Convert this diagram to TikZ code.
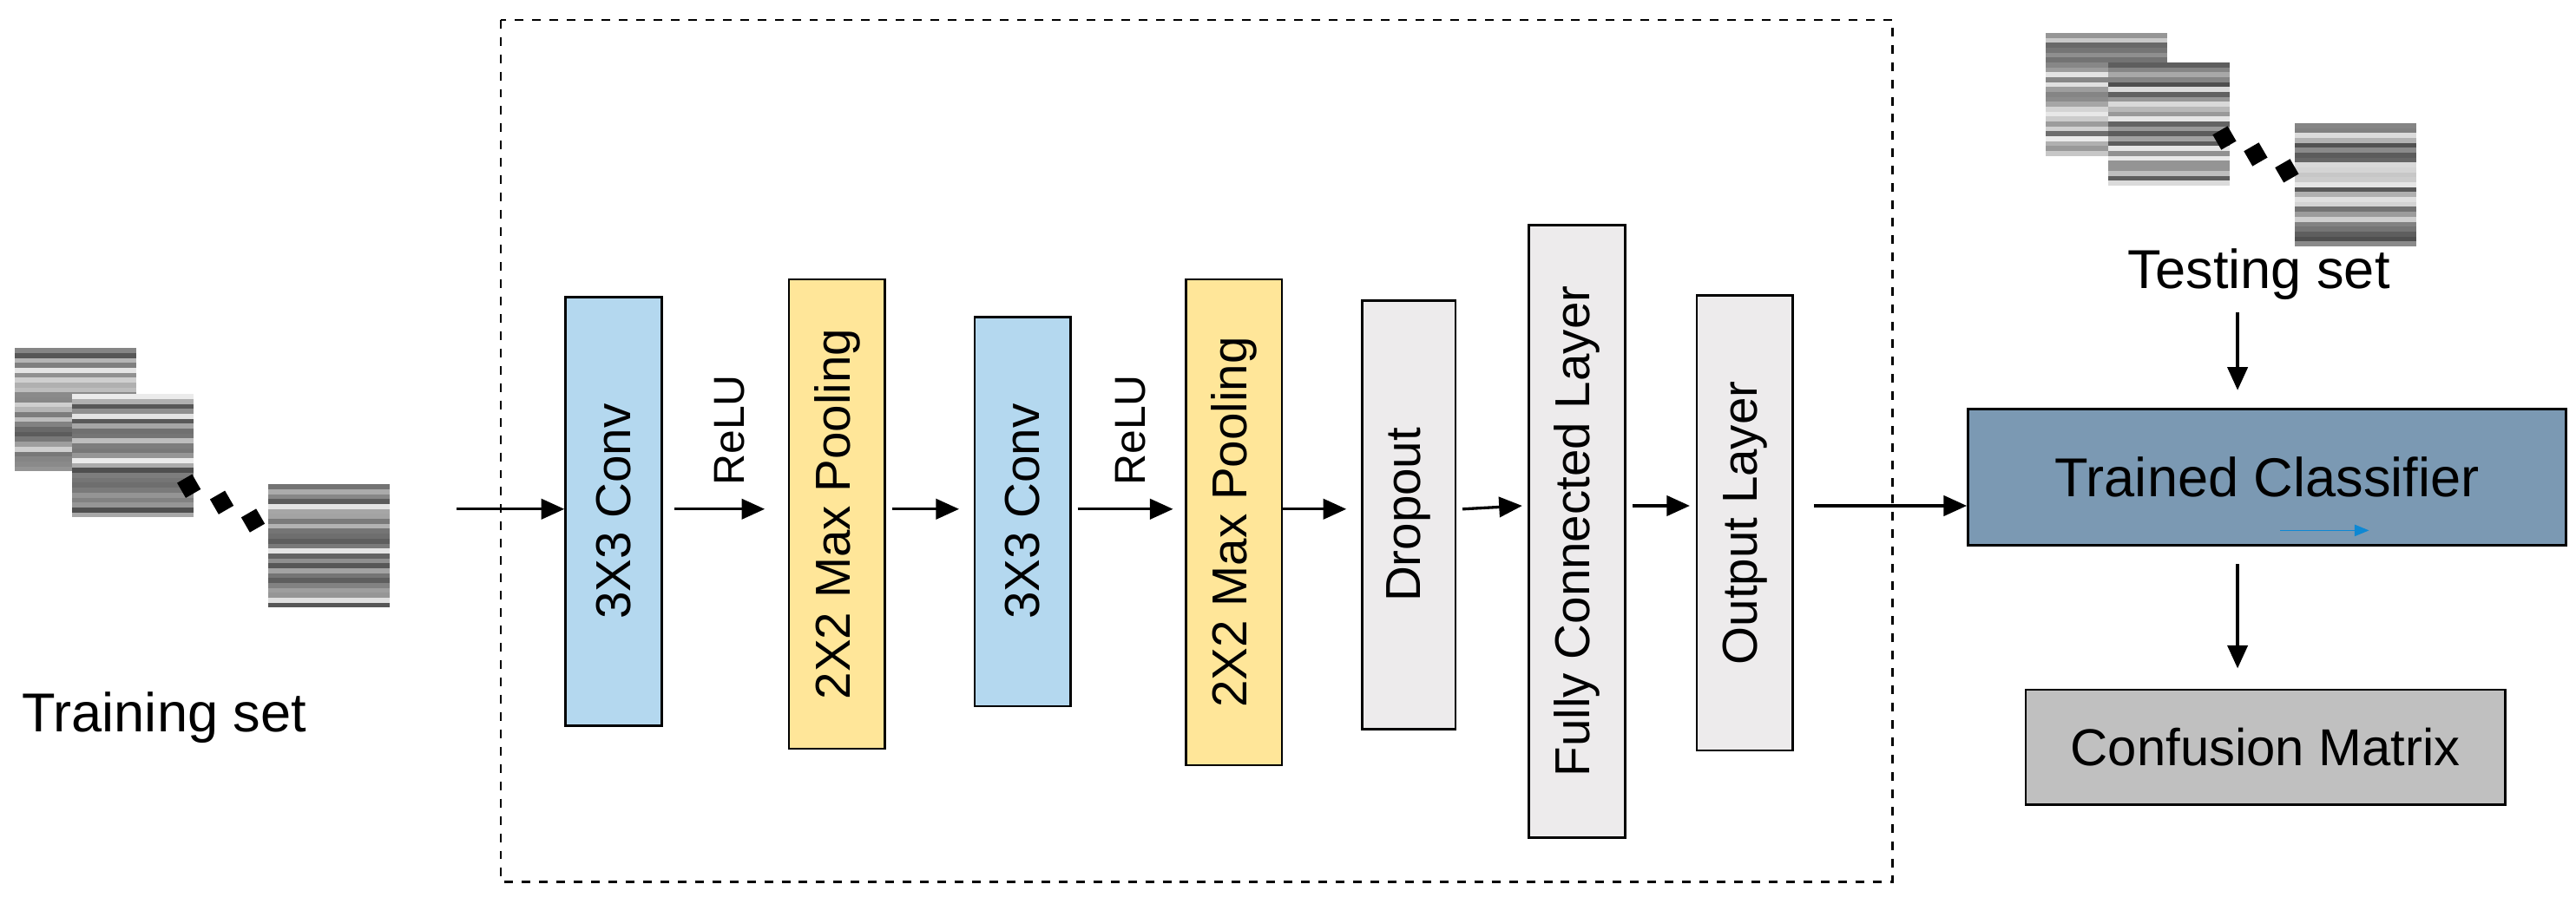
\documentclass[tikz,border=0pt]{standalone}
\usepackage{fontspec}
\setmainfont{Liberation Sans}
\usetikzlibrary{arrows.meta}
\definecolor{convc}{HTML}{B4D8EF}
\definecolor{poolc}{HTML}{FFE699}
\definecolor{grayc}{HTML}{EDEBEC}
\definecolor{clsc}{HTML}{7B99B3}
\definecolor{cmc}{HTML}{C0C0C0}
\newcommand{\texim}[3]{% x y seed
  \pgfmathsetseed{#3}
  \foreach \k in {0,...,24}{
    \pgfmathsetmacro\g{int(8+rnd*62)}
    \fill[black!\g] (#1,#2+3*\k) rectangle (#1+74,#2+3*\k+3.05);
  }}
\tikzset{
  lay/.style={draw=black, line width=0.8pt, rotate=90, minimum height=1.17cm, inner sep=0pt, font=\fontsize{17}{20}\selectfont},
  arr/.style={-{Triangle[length=8pt,width=7pt]}, line width=1pt},
  dot/.style={fill=black, rotate=30, minimum size=6pt, inner sep=0pt},
  lbl/.style={font=\fontsize{19}{22}\selectfont},
  relu/.style={rotate=90, font=\fontsize{15}{18}\selectfont}
}
\begin{document}
\begin{tikzpicture}[x=0.02cm,y=-0.02cm]
\useasboundingbox (0,0) rectangle (1568,550);
\draw[dashed, line width=0.7pt] (305,12) rectangle (1152,537);
% training images
\texim{9}{212}{11}
\texim{44}{240}{23}
\texim{163}{295}{37}
\node[dot] (d1) at (115,296) {};
\node[dot] (d2) at (135,306) {};
\node[dot] (d3) at (154,317) {};
\node[lbl] (train) at (100,437) {Training set};
% testing images
\texim{1245}{20}{41}
\texim{1283}{38}{53}
\texim{1397}{75}{67}
\node[dot] (t1) at (1354,84) {};
\node[dot] (t2) at (1373,94) {};
\node[dot] (t3) at (1392,104) {};
\node[lbl] (test) at (1375,167) {Testing set};
% layers
\node[lay, fill=convc, minimum width=5.22cm] (c1) at (373.5,311.5) {3X3 Conv};
\node[lay, fill=poolc, minimum width=5.72cm] (p1) at (509.5,313) {2X2 Max Pooling};
\node[lay, fill=convc, minimum width=4.74cm] (c2) at (622.5,311.5) {3X3 Conv};
\node[lay, fill=poolc, minimum width=5.92cm] (p2) at (751,318) {2X2 Max Pooling};
\node[lay, fill=grayc, minimum width=5.22cm, minimum height=1.14cm] (dr) at (857.5,313.5) {Dropout};
\node[lay, fill=grayc, minimum width=7.46cm] (fc) at (960,323.5) {Fully Connected Layer};
\node[lay, fill=grayc, minimum width=5.54cm] (out) at (1062,318.5) {Output Layer};
\node[draw=black, line width=1pt, fill=clsc, minimum width=7.28cm, minimum height=1.66cm, inner sep=0pt, font=\fontsize{19}{22}\selectfont] (cls) at (1380,290.5) {Trained Classifier};
\node[draw=black, line width=0.8pt, fill=cmc, minimum width=5.84cm, minimum height=1.4cm, inner sep=0pt, font=\fontsize{18}{21}\selectfont] (cm) at (1379,455) {Confusion Matrix};
\node[relu] (relu1) at (444,262) {ReLU};
\node[relu] (relu2) at (688,262) {ReLU};
% arrows
\coordinate (in) at (278,310);
\coordinate (y) at (0,310);
\coordinate (y2) at (0,308);
\coordinate (ts) at (1362,190);
\draw[arr] (in) -- (c1.north |- y);
\draw[arr] ([xshift=4pt]c1.south |- y) -- ([xshift=-8pt]p1.north |- y);
\draw[arr] ([xshift=2pt]p1.south |- y) -- ([xshift=-5pt]c2.north |- y);
\draw[arr] ([xshift=2pt]c2.south |- y) -- ([xshift=-4pt]p2.north |- y);
\draw[arr] (p2.south |- y) -- ([xshift=-5pt]dr.north |- y);
\draw[arr] ([xshift=2pt]dr.south |- y) -- ([xshift=-2pt]fc.north |- y2);
\draw[arr] ([xshift=2pt]fc.south |- y2) -- ([xshift=-2pt]out.north |- y2);
\draw[arr] ([xshift=7pt]out.south |- y2) -- (cls.west |- y2);
\draw[arr] (ts) -- ([yshift=6pt]cls.north -| ts);
\draw[arr] ([yshift=-6pt]cls.south -| ts) -- ([yshift=7pt]cm.north -| ts);
\coordinate (ba) at (1388,323);
\coordinate (bb) at (1442,323);
\draw[-{Triangle[length=5pt,width=4pt]}, draw=cyan!70!blue, line width=0.4pt] (ba) -- (bb);
\end{tikzpicture}
\end{document}
